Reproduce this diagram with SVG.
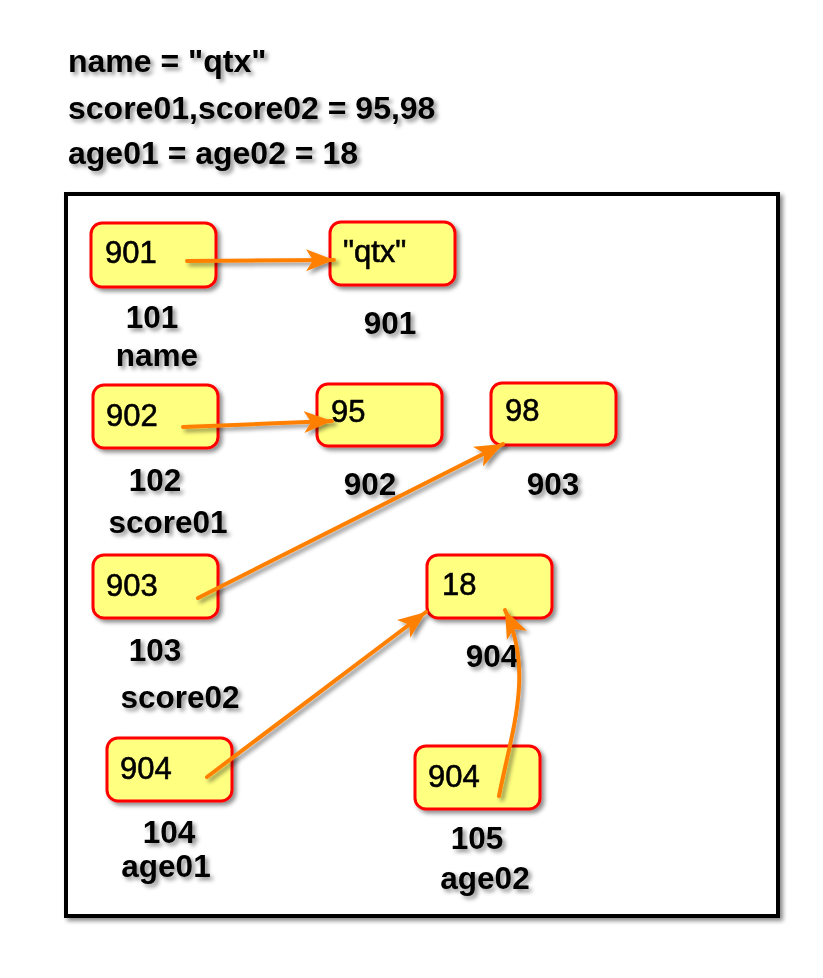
<svg xmlns="http://www.w3.org/2000/svg" width="823" height="978" viewBox="0 0 823 978">
<defs>
<filter id="sh" x="-10%" y="-10%" width="130%" height="130%">
<feDropShadow dx="3" dy="3" stdDeviation="2" flood-color="#000" flood-opacity="0.45"/>
</filter>
<marker id="ah" viewBox="0 0 30 24" refX="28" refY="12" markerWidth="30" markerHeight="24" markerUnits="userSpaceOnUse" orient="auto">
<path d="M0,1 L28,12 L0,23 L7,12 Z" fill="#ff8000"/>
</marker>
<style>
.box{fill:#ffff80;stroke:#ff0000;stroke-width:3}
.bt{font-family:"Liberation Sans",Arial,sans-serif;font-size:31px;fill:#000;stroke:#000;stroke-width:0.6}
.lb{font-family:"Liberation Sans",Arial,sans-serif;font-size:31.5px;font-weight:bold;fill:#000;text-anchor:middle}
.top{font-family:"Liberation Sans",Arial,sans-serif;font-size:32px;font-weight:bold;fill:#000}
.con{fill:none;stroke:#ff8000;stroke-width:4;stroke-linecap:round;marker-end:url(#ah)}
</style>
</defs>
<rect width="823" height="978" fill="#fff"/>
<g id="code" filter="url(#sh)">
<text class="top" x="68" y="72">name = "qtx"</text>
<text class="top" x="68" y="119">score01,score02 = 95,98</text>
<text class="top" x="68" y="164">age01 = age02 = 18</text>
</g>
<g id="frame" filter="url(#sh)">
<rect x="66" y="194" width="712" height="722" fill="#fff" stroke="#000" stroke-width="4"/>
</g>
<g id="n101" filter="url(#sh)">
<rect class="box" x="91" y="223" width="125" height="64" rx="11"/>
<text class="bt" x="105" y="263">901</text>
<text class="lb" x="152" y="328">101</text>
<text class="lb" x="157" y="366">name</text>
</g>
<g id="n901" filter="url(#sh)">
<rect class="box" x="330" y="222" width="125" height="63" rx="11"/>
<text class="bt" x="343" y="262">"qtx"</text>
<text class="lb" x="390" y="334">901</text>
</g>
<g id="n102" filter="url(#sh)">
<rect class="box" x="93" y="385" width="125" height="63" rx="11"/>
<text class="bt" x="106" y="426">902</text>
<text class="lb" x="155" y="491">102</text>
<text class="lb" x="168" y="533">score01</text>
</g>
<g id="n902" filter="url(#sh)">
<rect class="box" x="317" y="384" width="125" height="62" rx="11"/>
<text class="bt" x="331" y="422">95</text>
<text class="lb" x="370" y="495">902</text>
</g>
<g id="n903" filter="url(#sh)">
<rect class="box" x="491" y="383" width="125" height="62" rx="11"/>
<text class="bt" x="505" y="421">98</text>
<text class="lb" x="553" y="495">903</text>
</g>
<g id="n103" filter="url(#sh)">
<rect class="box" x="93" y="555" width="125" height="63" rx="11"/>
<text class="bt" x="106" y="596">903</text>
<text class="lb" x="155" y="661">103</text>
<text class="lb" x="180" y="708">score02</text>
</g>
<g id="n904" filter="url(#sh)">
<rect class="box" x="427" y="555" width="125" height="63" rx="11"/>
<text class="bt" x="442" y="595">18</text>
<text class="lb" x="492" y="667">904</text>
</g>
<g id="n104" filter="url(#sh)">
<rect class="box" x="107" y="738" width="125" height="63" rx="11"/>
<text class="bt" x="120" y="779">904</text>
<text class="lb" x="169" y="843">104</text>
<text class="lb" x="166" y="877">age01</text>
</g>
<g id="n105" filter="url(#sh)">
<rect class="box" x="415" y="746" width="125" height="63" rx="11"/>
<text class="bt" x="428" y="787">904</text>
<text class="lb" x="477" y="849">105</text>
<text class="lb" x="485" y="889">age02</text>
</g>
<g id="connectors" filter="url(#sh)">
<path class="con" d="M187,261 L334,260"/>
<path class="con" d="M183,427 L332,421"/>
<path class="con" d="M198,598 L503,444"/>
<path class="con" d="M207,777 L426,612"/>
<path class="con" d="M499,796 C512,730 534,672 505,610"/>
</g>
</svg>
